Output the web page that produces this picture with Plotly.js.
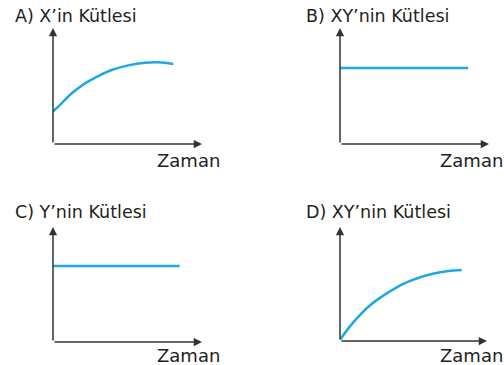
<!DOCTYPE html>
<html>
<head>
<meta charset="utf-8">
<script src="https://cdn.plot.ly/plotly-3.0.1.min.js"></script>
<style>
  html, body { margin: 0; padding: 0; background: #fff; }
  #chart { width: 504px; height: 365px; }
</style>
</head>
<body>
<div id="chart"></div>
<script>
// panel titles and axis label
const panelTitles = ['A) X\u2019in Kütlesi', 'B) XY\u2019nin Kütlesi', 'C) Y\u2019nin Kütlesi', 'D) XY\u2019nin Kütlesi'];
const timeLabel = 'Zaman';

// A) mass of X over time (rises, levels off)
const aTime = [0, 0.58, 1.26, 2.15, 3.04, 3.94, 5.05, 6.17, 7.07, 8.07];
const aMass = [2.8, 3.51, 4.37, 5.23, 5.86, 6.38, 6.78, 7.01, 7.04, 6.9];

// B) mass of XY (constant)
const bTime = [0, 8.6];
const bMass = [6.55, 6.55];

// C) mass of Y (constant)
const cTime = [0, 8.5];
const cMass = [6.6, 6.6];

// D) mass of XY (grows from zero)
const dTime = [0, 0.57, 1.25, 1.93, 2.84, 3.74, 4.65, 5.56, 6.46, 7.37, 8.28];
const dMass = [0.1, 1.11, 2.13, 3.01, 3.89, 4.62, 5.2, 5.64, 5.94, 6.14, 6.23];

const W = 504, H = 365;
const LINE = '#20a8e4';
const AXIS = '#333333';
const TEXT = '#231f20';

// origin / arrow tip of each panel, in pixels
const boxes = [
    { x0: 53, x1: 202, y0: 144, y1: 28, titleX: 13, titleY: 16, labX: 155, labY: 160 },
    { x0: 340, x1: 489, y0: 144, y1: 28, titleX: 304, titleY: 16, labX: 438, labY: 160 },
    { x0: 53, x1: 202, y0: 342, y1: 227, titleX: 13, titleY: 212, labX: 155, labY: 355 },
    { x0: 340, x1: 487, y0: 341, y1: 227, titleX: 304, titleY: 212, labX: 438, labY: 355 }
];

const series = [[aTime, aMass], [bTime, bMass], [cTime, cMass], [dTime, dMass]];

const traces = series.map((s, i) => ({
    x: s[0],
    y: s[1],
    xaxis: 'x' + (i ? i + 1 : ''),
    yaxis: 'y' + (i ? i + 1 : ''),
    type: 'scatter',
    mode: 'lines',
    line: { color: LINE, width: 2.5, shape: 'spline', smoothing: 1 },
    hoverinfo: 'skip',
    showlegend: false
}));

const layout = {
    width: W,
    height: H,
    margin: { l: 0, r: 0, t: 0, b: 0 },
    paper_bgcolor: '#fff',
    plot_bgcolor: 'rgba(0,0,0,0)',
    showlegend: false,
    annotations: []
};

const titleFont = { family: 'DejaVu Sans', size: 17.5, color: TEXT };
const labelFont = { family: 'DejaVu Sans', size: 18, color: TEXT };

boxes.forEach((b, i) => {
    const n = i ? i + 1 : '';
    layout['xaxis' + n] = {
        domain: [b.x0 / W, b.x1 / W], range: [0, 10], visible: false,
        anchor: 'y' + n, fixedrange: true
    };
    layout['yaxis' + n] = {
        domain: [1 - b.y0 / H, 1 - b.y1 / H], range: [0, 10], visible: false,
        anchor: 'x' + n, fixedrange: true
    };
    const ax = { xref: 'x' + n, yref: 'y' + n, axref: 'x' + n, ayref: 'y' + n,
        showarrow: true, arrowhead: 2, arrowsize: 1.1, arrowwidth: 1.5,
        arrowcolor: AXIS, text: '' };
    layout.annotations.push({ ...ax, x: 10, y: 0, ax: 0, ay: 0 });
    layout.annotations.push({ ...ax, x: 0, y: 10, ax: 0, ay: 0 });
    layout.annotations.push({
        xref: 'paper', yref: 'paper', x: b.titleX / W, y: 1 - b.titleY / H,
        xanchor: 'left', yanchor: 'middle', showarrow: false,
        text: panelTitles[i], font: titleFont
    });
    layout.annotations.push({
        xref: 'paper', yref: 'paper', x: b.labX / W, y: 1 - b.labY / H,
        xanchor: 'left', yanchor: 'middle', showarrow: false,
        text: timeLabel, font: labelFont
    });
});

Plotly.newPlot('chart', traces, layout, { staticPlot: true, displayModeBar: false });
</script>
</body>
</html>
